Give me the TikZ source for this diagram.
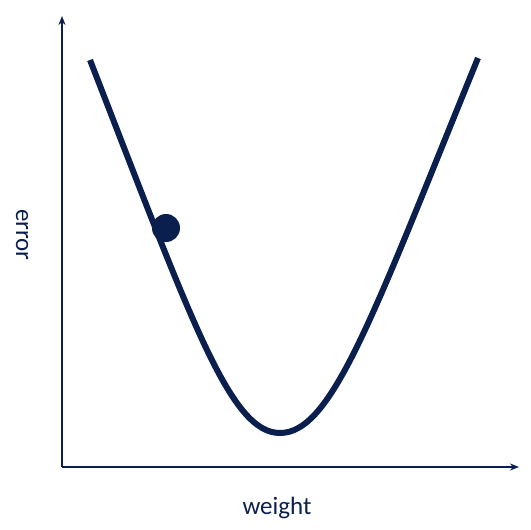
\documentclass[tikz,border=0pt]{standalone}
\usepackage{fontspec}
\setmainfont{Carlito}
\usepackage{xcolor}
\definecolor{plotnavy}{HTML}{0B1F4F}
\usetikzlibrary{arrows.meta}

\begin{document}
\begin{tikzpicture}[x=1pt, y=-1pt, >={Stealth[length=9pt, width=7pt]},
                    every node/.style={plotnavy, font=\fontsize{25}{30}\selectfont},
                    axis/.style={plotnavy, line width=2pt, ->},
                    errcurve/.style={plotnavy, line width=6pt}]

  %% 背景與邊界
  \useasboundingbox (0,0) rectangle (531,530);

  %% 座標軸
  \coordinate (origin) at (62,467);
  \coordinate (xend) at (519,467);
  \coordinate (yend) at (62,16);
  \draw[axis] (origin) -- (xend);
  \draw[axis] (origin) -- (yend);

  %% 軸標籤
  \node (wlabel) at (277,508) {weight};
  \node[rotate=-90] (elabel) at (22,235) {error};

  %% 誤差曲線
  \draw[errcurve] (90,60) .. controls (192,322) and (230,433) .. (280,433)
                          .. controls (332,433) and (372,318) .. (478,58);

  %% 小球
  \node[circle, fill=plotnavy, minimum size=28pt, inner sep=0pt] (ball) at (166,228) {};

\end{tikzpicture}
\end{document}
